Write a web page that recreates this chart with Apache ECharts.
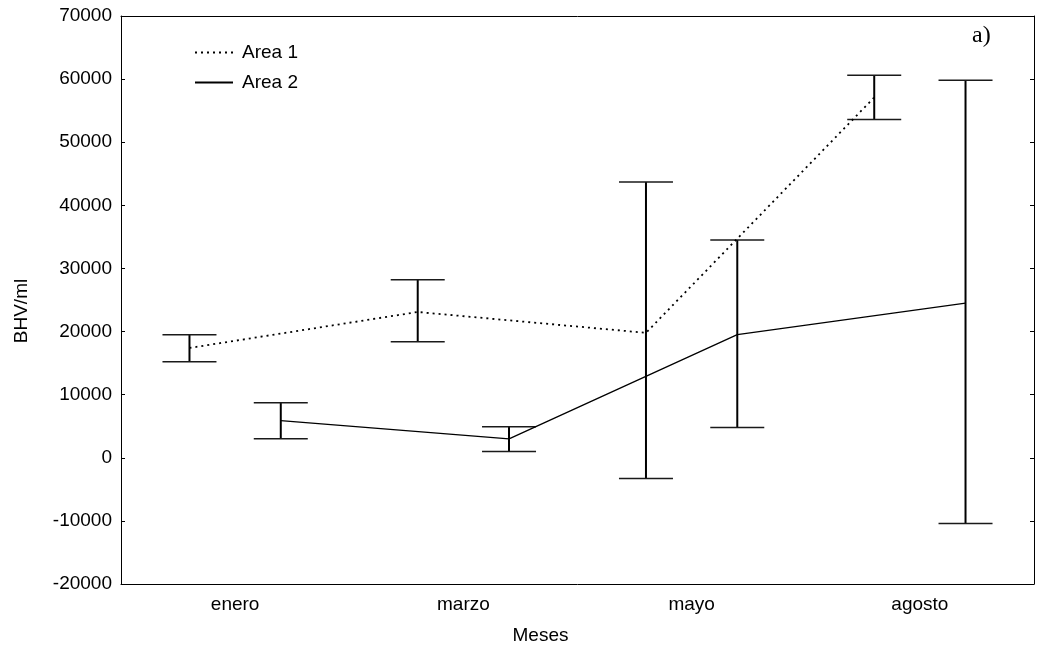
<!DOCTYPE html>
<html lang="es">
<head>
    <meta charset="utf-8">
    <title>BHV/ml por mes</title>
    <style>
        html, body { margin: 0; padding: 0; background: #fff; }
        #chart { width: 1040px; height: 654px; }
    </style>
</head>
<body>
    <div id="chart"></div>

<script src="https://cdn.jsdelivr.net/npm/echarts@6/dist/echarts.min.js"></script>
<script>
    // meses
    var categories = ['enero', 'marzo', 'mayo', 'agosto'];

    // Area 1 (punteada): media e intervalo
    var area1Mean = [17400, 23100, 19800, 57100];
    var area1Low  = [15200, 18400, -3300, 53600];
    var area1High = [19500, 28200, 43700, 60600];

    // Area 2 (continua)
    var area2Mean = [5900, 3000, 19500, 24500];
    var area2Low  = [3000, 1000, 4800, -10400];
    var area2High = [8700, 4900, 34500, 59800];

    var yTicks = { min: -20000, max: 70000, interval: 10000 };

    // desplazamiento de cada serie respecto al centro de la categoria
    var offset1 = -0.2, offset2 = 0.2;

    var font = '"Liberation Sans", Arial, sans-serif';

    function linePoints(mean, off) {
        return mean.map(function (v, i) { return [i + 1 + off, v]; });
    }

    function barPoints(low, high, off) {
        return low.map(function (v, i) { return [i + 1 + off, v, high[i]]; });
    }

    /**
     * barra de error: linea vertical con dos topes
     */
    function renderErrorBar(params, api) {
        var x = api.value(0);
        var pLo = api.coord([x, api.value(1)]);
        var pHi = api.coord([x, api.value(2)]);
        var half = 27;
        return {
            type: 'group',
            children: [
                { type: 'line', shape: { x1: pLo[0], y1: pHi[1], x2: pLo[0], y2: pLo[1] },
                  style: { stroke: '#000', lineWidth: 2 } },
                { type: 'line', shape: { x1: pHi[0] - half, y1: pHi[1], x2: pHi[0] + half, y2: pHi[1] },
                  style: { stroke: '#1a1a1a', lineWidth: 1.5 } },
                { type: 'line', shape: { x1: pLo[0] - half, y1: pLo[1], x2: pLo[0] + half, y2: pLo[1] },
                  style: { stroke: '#1a1a1a', lineWidth: 1.5 } }
            ]
        };
    }

    var myChart = echarts.init(document.getElementById('chart'), null, { renderer: 'canvas' });

    var option = {
        animation: false,
        backgroundColor: '#fff',
        textStyle: { fontFamily: font, color: '#000' },
        grid: { left: 121, right: 6, top: 16, bottom: 70 },
        legend: {
            left: 189,
            top: 38,
            orient: 'vertical',
            itemWidth: 38,
            itemHeight: 14,
            itemGap: 11,
            itemStyle: { opacity: 0 },
            textStyle: { fontSize: 19, color: '#000', fontFamily: font, lineHeight: 10, padding: [6, 0, 0, 4] },
            data: ['Area 1', 'Area 2']
        },
        xAxis: [
            {
                type: 'category',
                data: categories,
                position: 'bottom',
                name: 'Meses',
                nameLocation: 'middle',
                nameGap: 42,
                nameTextStyle: { fontSize: 19, color: '#000', padding: [0, 74, 0, 0] },
                axisLine: { onZero: false, lineStyle: { color: '#000', width: 1 } },
                axisTick: { inside: true, length: 4, lineStyle: { color: '#000' } },
                axisLabel: { fontSize: 19, color: '#000', margin: 11 },
                splitLine: { show: false }
            },
            {
                type: 'value',
                min: 0.5,
                max: 4.5,
                show: false
            },
            {
                type: 'category',
                data: categories,
                position: 'top',
                axisLine: { onZero: false, lineStyle: { color: '#000', width: 1 } },
                axisTick: { inside: true, length: 4, lineStyle: { color: '#000' } },
                axisLabel: { show: false },
                splitLine: { show: false }
            }
        ],
        yAxis: [
            {
                type: 'value',
                min: yTicks.min,
                max: yTicks.max,
                interval: yTicks.interval,
                name: 'BHV/ml',
                nameLocation: 'middle',
                nameGap: 90,
                nameTextStyle: { fontSize: 19, color: '#000', padding: [0, 0, 0, -22] },
                axisLine: { show: true, lineStyle: { color: '#000', width: 1 } },
                axisTick: { show: true, inside: true, length: 4, lineStyle: { color: '#000' } },
                axisLabel: {
                    fontSize: 19, color: '#000', margin: 9,
                    formatter: function (v) { return String(v); }
                },
                splitLine: { show: false }
            },
            {
                type: 'value',
                position: 'right',
                min: yTicks.min,
                max: yTicks.max,
                interval: yTicks.interval,
                axisLine: { show: true, lineStyle: { color: '#000', width: 1 } },
                axisTick: { show: true, inside: true, length: 4, lineStyle: { color: '#000' } },
                axisLabel: { show: false },
                splitLine: { show: false }
            }
        ],
        graphic: [
            {
                type: 'text',
                left: 972,
                top: 24,
                style: { text: 'a)', font: '24px "Liberation Serif", "Times New Roman", serif', fill: '#000' }
            }
        ],
        series: [
            {
                name: 'Area 1 barras',
                type: 'custom',
                xAxisIndex: 1,
                yAxisIndex: 0,
                renderItem: renderErrorBar,
                encode: { x: 0, y: [1, 2] },
                data: barPoints(area1Low, area1High, offset1),
                z: 2
            },
            {
                name: 'Area 2 barras',
                type: 'custom',
                xAxisIndex: 1,
                yAxisIndex: 0,
                renderItem: renderErrorBar,
                encode: { x: 0, y: [1, 2] },
                data: barPoints(area2Low, area2High, offset2),
                z: 2
            },
            {
                name: 'Area 1',
                type: 'line',
                xAxisIndex: 1,
                yAxisIndex: 0,
                symbol: 'none',
                lineStyle: { color: '#000', width: 1.8, type: [2, 4] },
                itemStyle: { color: '#000' },
                data: linePoints(area1Mean, offset1),
                z: 3
            },
            {
                name: 'Area 2',
                type: 'line',
                xAxisIndex: 1,
                yAxisIndex: 0,
                symbol: 'none',
                lineStyle: { color: '#000', width: 1.3, type: 'solid' },
                itemStyle: { color: '#000' },
                data: linePoints(area2Mean, offset2),
                z: 3
            }
        ]
    };

    myChart.setOption(option);
</script>
</body>
</html>
